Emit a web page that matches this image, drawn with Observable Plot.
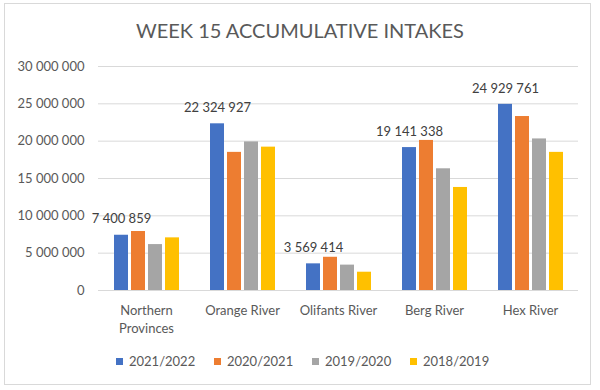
<!DOCTYPE html>
<html>
<head>
<meta charset="utf-8">
<script src="https://cdn.jsdelivr.net/npm/d3@7"></script>
<script src="https://cdn.jsdelivr.net/npm/@observablehq/plot@0.6"></script>
<style>
  body { margin: 0; background: #fff; }
  #page { position: relative; width: 600px; height: 390px; background: #fff; font-family: Lato, sans-serif; color: #595959; }
  #frame { position: absolute; left: 4px; top: 3px; width: 587px; height: 382px; border: 1px solid #d9d9d9; box-sizing: border-box; }
  #title { position: absolute; top: 18px; left: 0; width: 600px; text-align: center; font-size: 20px; color: #595959; }
  #chart { position: absolute; top: 50px; left: 0; }
  #legend { position: absolute; top: 353px; left: 116px; display: flex; font-size: 13px; }
  .item { width: 98px; display: flex; align-items: center; }
  .sw { width: 7px; height: 7px; margin-right: 6px; }
</style>
</head>
<body>
<div id="page">
  <div id="frame"></div>
  <div id="title">WEEK 15 ACCUMULATIVE INTAKES</div>
  <div id="chart"></div>
  <div id="legend"></div>
</div>
<script>
const categories = ["Northern\nProvinces", "Orange River", "Olifants River", "Berg River", "Hex River"];
const seasons = ["2021/2022", "2020/2021", "2019/2020", "2018/2019"];
const v2021_2022 = [7400859, 22324927, 3569414, 19141338, 24929761];
const v2020_2021 = [7900000, 18500000, 4450000, 20100000, 23300000];
const v2019_2020 = [6150000, 19900000, 3400000, 16300000, 20300000];
const v2018_2019 = [7050000, 19200000, 2450000, 13800000, 18500000];
const yTicks = [0, 5000000, 10000000, 15000000, 20000000, 25000000, 30000000];
const colors = ["#4472C4", "#ED7D31", "#A5A5A5", "#FFC000"];

const series = [v2021_2022, v2020_2021, v2019_2020, v2018_2019];
const data = [];
categories.forEach((c, i) => seasons.forEach((s, j) => data.push({category: c, season: s, value: series[j][i]})));

const fmt = d3.formatLocale({thousands: " ", grouping: [3], decimal: "."}).format(",");

const chart = Plot.plot({
  width: 600,
  height: 290,
  marginTop: 16,
  marginBottom: 50,
  marginLeft: 97,
  marginRight: 22,
  style: {fontFamily: "Lato, sans-serif", fontSize: "13px", color: "#595959", background: "transparent"},
  fx: {domain: categories, padding: 0, label: null},
  x: {domain: seasons, paddingInner: 0.2, paddingOuter: 0.88, axis: null},
  y: {domain: [0, 30000000], label: null},
  color: {domain: seasons, range: colors},
  marks: [
    Plot.gridY(yTicks, {stroke: "#d9d9d9", strokeOpacity: 1}),
    Plot.axisY(yTicks, {tickSize: 0, tickPadding: 14, tickFormat: fmt, fontSize: 13, fill: "#595959", label: null}),
    Plot.axisFx({anchor: "bottom", tickSize: 0, tickPadding: 12, fontSize: 13, lineHeight: 1.38, fill: "#595959", label: null}),
    Plot.barY(data, {fx: "category", x: "season", y: "value", fill: "season"}),
    Plot.text(data.filter(d => d.season === seasons[0]), {fx: "category", x: "season", y: "value", text: d => fmt(d.value), dy: -16, fontSize: 13, fill: "#404040"})
  ]
});
document.getElementById("chart").appendChild(chart);

const legend = document.getElementById("legend");
seasons.forEach((s, i) => {
  const it = document.createElement("div");
  it.className = "item";
  it.innerHTML = `<span class="sw" style="background:${colors[i]}"></span><span>${s}</span>`;
  legend.appendChild(it);
});
</script>
</body>
</html>
